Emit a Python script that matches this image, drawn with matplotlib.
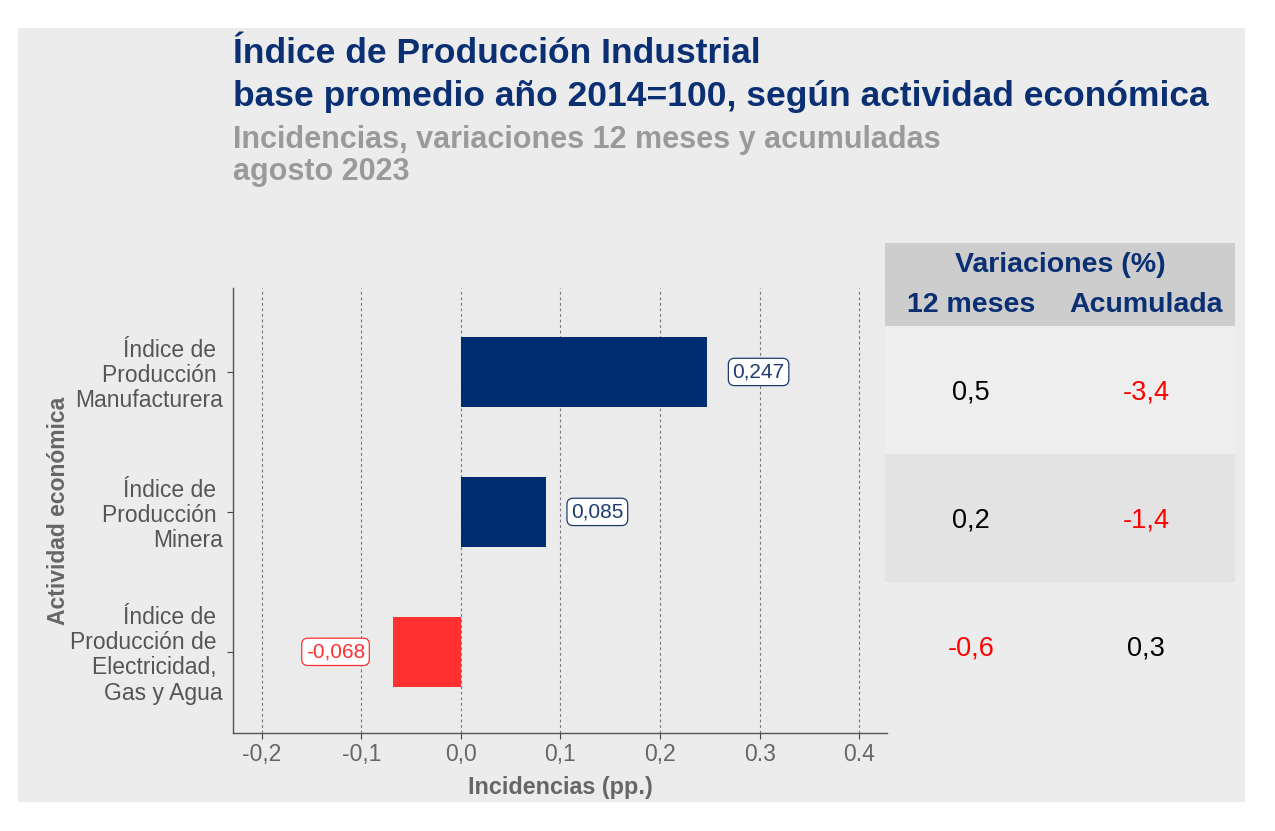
import matplotlib.pyplot as plt
from matplotlib.patches import Rectangle

plt.rcParams['font.family'] = ['Liberation Sans', 'DejaVu Sans']

### Data

categorias = ['Índice de \nProducción \nManufacturera',
              'Índice de \nProducción \nMinera',
              'Índice de \nProducción de \nElectricidad, \nGas y Agua']
incidencias = [0.247, 0.085, -0.068]
etiquetas = ['0,247', '0,085', '-0,068']
var_12m = [0.5, 0.2, -0.6]
var_acum = [-3.4, -1.4, 0.3]
xticks = [-0.2, -0.1, 0.0, 0.1, 0.2, 0.3, 0.4]
xticklabels = ['-0,2', '-0,1', '0,0', '0,1', '0,2', '0.3', '0.4']

navy = '#002D72'
rojo = '#FF3030'
W, H = 1275, 831


def fx(px):
    return px / W


def fy(py):
    return 1 - py / H


fig = plt.figure(figsize=(12.75, 8.31), dpi=100)
fig.patch.set_facecolor('white')
fig.patches.append(Rectangle((fx(18), fy(802)), fx(1245) - fx(18), fy(28) - fy(802),
                             transform=fig.transFigure, facecolor='#ececec',
                             edgecolor='none', zorder=-5))

### Titles

fig.text(fx(233), fy(63), 'Índice de Producción Industrial', color='#0A2F73',
         fontsize=25.5, fontweight='bold', va='baseline')
fig.text(fx(233), fy(106), 'base promedio año 2014=100, según actividad económica',
         color='#0A2F73', fontsize=25.5, fontweight='bold', va='baseline')
fig.text(fx(233), fy(148), 'Incidencias, variaciones 12 meses y acumuladas',
         color='#9a9a9a', fontsize=22, fontweight='bold', va='baseline')
fig.text(fx(233), fy(180), 'agosto 2023', color='#9a9a9a', fontsize=22,
         fontweight='bold', va='baseline')

### Bar chart

ax = fig.add_axes([fx(233), fy(733), fx(887) - fx(233), fy(288) - fy(733)])
ax.set_facecolor('#ebebeb')
ypos = list(range(len(categorias)))
colores = [navy if v >= 0 else rojo for v in incidencias]
ax.barh(ypos, incidencias, height=0.5, color=colores, zorder=3)

for y, v, t in zip(ypos, incidencias, etiquetas):
    c = '#1F3A6E' if v >= 0 else rojo
    off = 0.052 if v >= 0 else -0.058
    ax.text(v + off, y, t, ha='center', va='center', fontsize=15, color=c, zorder=4,
            bbox=dict(boxstyle='round,pad=0.2,rounding_size=0.3', fc='white', ec=c, lw=0.9))

ax.set_xlim(-0.229, 0.428)
ax.set_ylim(2.58, -0.6)
ax.set_xticks(xticks)
ax.set_xticklabels(xticklabels)
ax.set_yticks(ypos)
ax.set_yticklabels(categorias, fontsize=16.5, color='#555555', linespacing=1.12)
ax.tick_params(axis='x', labelsize=16.5, labelcolor='#666666', color='#444444', length=4)
ax.tick_params(axis='y', color='#444444', length=4)
ax.grid(axis='x', color='#777777', linestyle=(0, (2.5, 2.5)), linewidth=0.8, zorder=1)
for s in ['top', 'right']:
    ax.spines[s].set_visible(False)
for s in ['left', 'bottom']:
    ax.spines[s].set_color('#555555')
    ax.spines[s].set_linewidth(1.0)
ax.set_xlabel('Incidencias (pp.)', fontsize=16.8, fontweight='bold', color='#666666', labelpad=7)
ax.set_ylabel('Actividad económica', fontsize=16.5, fontweight='bold', color='#666666', labelpad=0)

### Table of variations

at = fig.add_axes([fx(885), fy(710), fx(1235) - fx(885), fy(243) - fy(710)])
at.set_xlim(0, 2)
at.set_ylim(3, -0.65)
at.axis('off')
at.add_patch(Rectangle((0, -0.65), 2, 0.65, facecolor='#cdcdcd', edgecolor='none'))
fondos = ['#eeeeee', '#e3e3e3', '#ececec']
for i, f in enumerate(fondos):
    at.add_patch(Rectangle((0, i), 2, 1, facecolor=f, edgecolor='none'))

at.text(1.0, -0.48, 'Variaciones (%)', ha='center', va='center', fontsize=20.5,
        fontweight='bold', color='#0A2F73')
at.text(0.49, -0.165, '12 meses', ha='center', va='center', fontsize=20.5,
        fontweight='bold', color='#0A2F73')
at.text(1.49, -0.165, 'Acumulada', ha='center', va='center', fontsize=20.5,
        fontweight='bold', color='#0A2F73')

for i, (a, b) in enumerate(zip(var_12m, var_acum)):
    for x, v in [(0.49, a), (1.49, b)]:
        at.text(x, i + 0.52, f'{v:.1f}'.replace('.', ','), ha='center', va='center',
                fontsize=19.5, color='red' if v < 0 else 'black')

fig.savefig('out.png', dpi=100)
